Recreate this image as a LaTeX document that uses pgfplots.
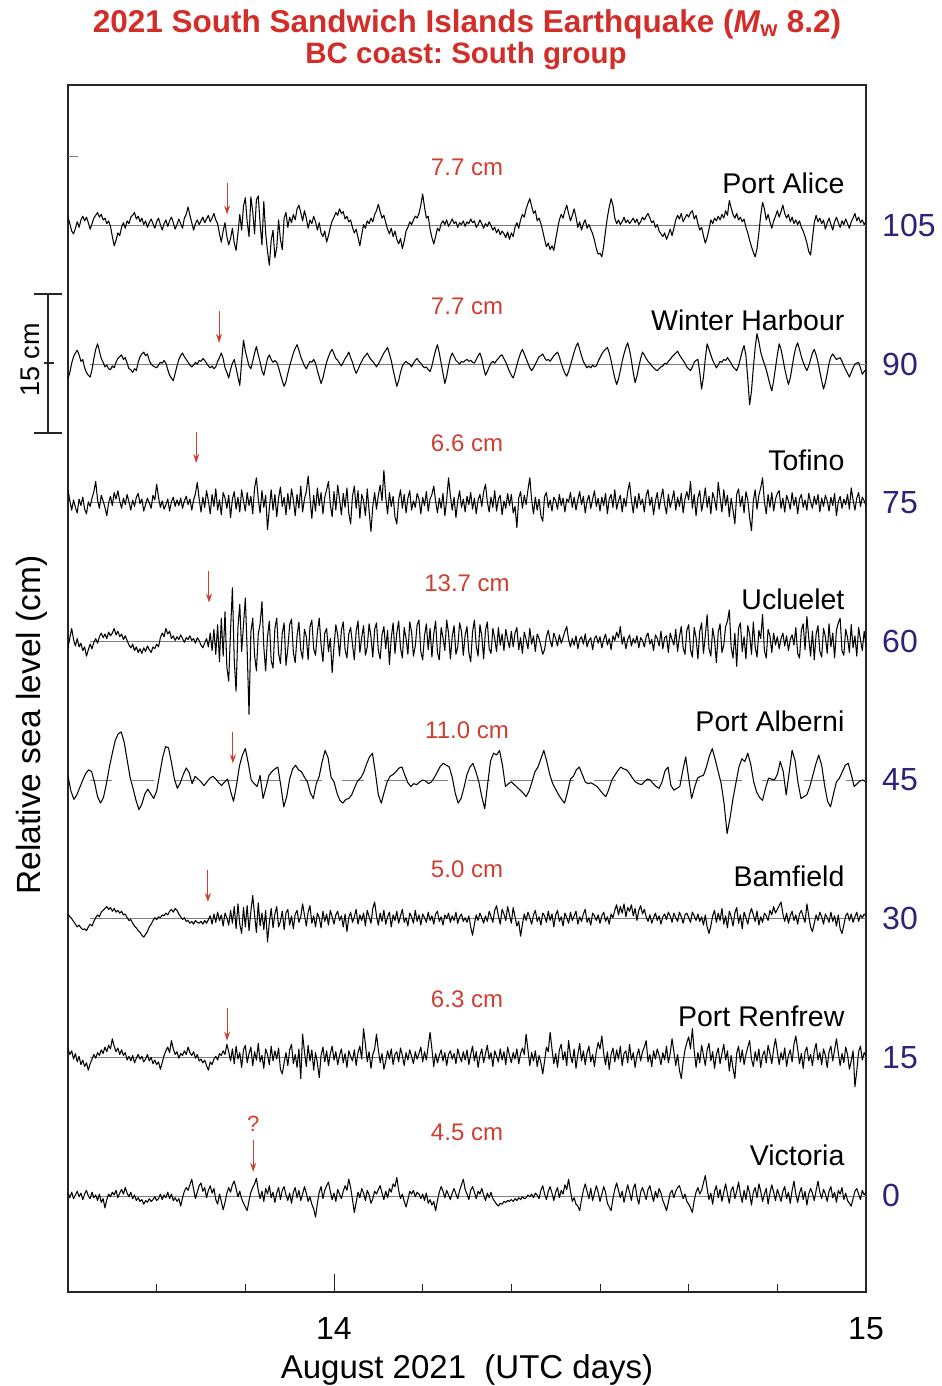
\documentclass[border=0pt]{standalone}
\usepackage{fontspec}
\setmainfont{Liberation Sans}
\usepackage{pgfplots}
\pgfplotsset{compat=1.18}
\usepackage{pgfplotstable}
\usetikzlibrary{arrows.meta}
\frenchspacing

\definecolor{titlered}{RGB}{210,45,40}
\definecolor{ampred}{RGB}{208,62,50}
\definecolor{levelblue}{RGB}{45,35,120}
\definecolor{zerogray}{RGB}{125,125,125}

% De-tided sea-level residuals (cm), 5-min samples from 13 Aug 2021 12:00 UTC
\pgfplotstableread{
h
0.9
0.2
-0.6
-0.9
-0.3
0.4
-0.2
0.6
1.0
0.5
0.9
0.3
-0.4
0.2
0.8
1.1
1.4
0.9
1.2
0.6
0.8
0.2
0.5
-0.1
-1.2
-2.2
-1.6
-0.8
-1.1
-0.2
0.3
-0.3
0.5
0.2
0.9
1.1
1.4
0.7
1.0
0.4
0.8
0.1
0.5
-0.2
0.3
0.7
0.2
-0.3
0.4
0.8
0.1
-0.5
0.2
0.6
-0.1
0.5
0.9
0.3
-0.4
0.1
0.7
0.2
-0.3
0.8
1.2
2.0
1.1
0.3
-0.5
0.2
0.6
0.1
0.5
0.9
0.3
0.7
1.1
0.4
0.8
1.3
0.6
0.2
-0.9
-1.8
-0.6
0.3
-1.2
-2.1
-1.4
-0.3
-1.9
-2.7
-0.8
1.2
-0.5
2.1
3.0
0.4
-1.2
3.1
1.5
-0.9
2.8
3.2
0.2
-2.1
2.6
-0.8
-2.8
-4.3
-1.6
-0.5
-3.5
-2.4
0.6
-1.5
-2.6
0.8
1.4
-0.2
0.9
0.3
1.2
0.6
1.8
2.2
1.4
0.5
1.6
0.8
-0.3
0.6
0.2
1.0
0.4
-0.5
0.3
-0.8
-1.2
-0.6
-1.8
-1.1
-0.2
0.5
0.9
1.4
1.1
1.8
1.3
1.5
0.7
1.0
0.4
0.6
-0.2
-0.8
-0.4
-1.3
-2.2
-1.0
0.1
-0.3
0.5
0.2
0.8
0.4
1.2
1.6
2.3
1.5
0.8
1.1
0.3
-0.4
-0.9
-0.3
-1.2
-0.6
-1.5
-2.0
-1.4
-2.5
-1.7
-0.6
-0.2
0.4
0.1
0.6
1.0
0.8
1.3
2.2
3.4
2.0
0.8
1.0
-0.4
-1.3
-2.0
-1.2
-0.3
-0.6
0.2
0.5
0.1
0.6
-0.1
0.3
0.7
0.2
0.4
-0.2
0.3
0.1
0.5
-0.1
0.4
0.2
0.7
0.3
0.5
-0.2
0.1
0.6
0.2
-0.3
0.2
-0.1
0.4
0.0
-0.5
-0.2
-0.8
-0.4
-1.0
-0.6
-0.9
-1.3
-0.7
-1.5
-0.8
-1.2
-0.2
0.3
-0.3
0.6
1.2
0.9
1.8
2.4
2.9
2.1
1.3
1.6
0.5
0.8
0.2
-0.6
-1.5
-2.3
-1.9
-2.6
-2.2
-2.7
-1.5
-0.4
0.6
1.2
0.8
1.6
2.2
1.3
0.5
1.1
1.8
0.9
-0.2
0.4
-0.5
0.2
0.6
-0.3
0.1
-0.4
-0.9
-1.6
-2.5
-3.1
-3.0
-3.4
-2.2
-0.6
0.9
2.0
2.9
2.2
0.8
0.2
0.6
0.1
0.4
0.9
0.3
0.6
0.2
0.5
0.8
0.3
0.7
0.1
0.4
0.9
0.6
1.0
1.3
0.8
0.3
0.5
-0.2
0.1
-0.6
-0.9
-1.2
-0.8
-1.5
-1.0
-0.4
-1.1
-0.3
0.6
1.1
0.7
1.3
0.4
0.8
1.2
0.9
1.4
1.6
0.7
1.1
0.2
-0.5
-0.2
-1.1
-1.9
-1.3
-0.4
0.6
0.2
0.8
0.5
1.0
0.6
1.2
0.8
1.6
1.1
2.7
1.9
1.2
0.8
1.3
0.6
0.9
0.4
0.7
-0.2
-0.8
-1.6
-2.3
-2.9
-3.4
-2.5
-0.8
1.1
2.5
1.8
0.6
1.2
0.4
-0.3
0.5
1.0
1.6
0.9
1.5
2.2
1.3
0.8
1.2
0.4
0.9
0.2
0.6
0.1
0.5
-0.2
-0.6
-1.2
-1.9
-2.8
-3.2
-1.4
0.3
1.1
0.4
0.8
0.2
0.6
-0.4
0.3
0.8
0.1
-0.5
0.4
0.9
0.3
-0.2
0.5
0.1
0.7
0.2
-0.3
0.4
0.8
1.3
0.5
0.9
0.3
0.6
0.1
0.4
}\tabPA

\pgfplotstableread{
h
-1.6
-0.9
0.1
0.8
1.2
1.5
1.0
0.3
0.5
-0.4
-0.9
-1.2
-1.4
-0.6
0.6
1.6
2.2
1.4
0.6
0.2
-0.3
-0.1
-0.5
-0.6
-0.2
-0.4
0.2
0.6
0.8
1.0
0.5
0.7
0.1
-0.5
-0.6
-0.9
-0.5
-0.7
0.2
0.8
1.1
1.3
0.9
1.1
0.4
0.0
-0.2
-0.3
-0.4
-0.1
0.2
0.1
0.4
0.1
-0.6
-1.2
-1.5
-1.8
-1.0
-0.2
0.5
0.9
1.2
0.8
0.5
0.2
-0.1
-0.3
-0.1
0.2
0.0
0.4
0.3
0.6
0.4
0.1
-0.2
-0.4
-0.2
-0.5
-0.3
0.3
0.7
1.2
0.6
-0.4
-0.9
-1.5
-0.6
0.1
0.5
-0.4
-1.4
-2.3
0.3
2.6
1.4
0.6
-0.2
-0.5
0.3
1.2
1.9
1.0
0.2
-0.7
-1.2
-0.3
0.6
1.0
0.5
0.2
0.4
0.2
-0.4
-1.1
-1.8
-2.4
-1.9
-1.0
-0.2
0.5
1.2
1.7
2.1
1.5
0.8
0.3
-0.2
-0.5
-0.1
0.3
0.2
0.5
0.1
-0.7
-1.4
-2.1
-1.5
-0.6
0.2
0.8
1.3
1.6
1.1
0.6
0.4
0.1
-0.2
0.2
0.6
0.9
1.3
0.7
0.2
-0.5
-1.0
-0.6
-0.1
0.3
0.7
0.9
1.2
0.8
0.5
0.3
0.0
-0.3
0.0
0.4
0.8
1.2
1.5
1.8
1.1
0.4
-0.6
-1.5
-2.4
-1.8
-0.9
-0.2
0.1
0.3
0.1
0.0
-0.3
0.1
0.4
0.6
0.3
0.1
-0.2
-0.4
-0.3
-0.6
-0.8
-0.2
0.7
1.5
2.1
1.2
0.1
-1.0
-2.1
-1.3
-0.2
0.7
1.2
0.8
0.4
0.2
0.0
0.3
0.2
0.4
0.5
0.3
0.4
0.2
0.1
0.5
0.9
1.2
0.6
-0.4
-1.2
-0.8
-0.3
0.1
0.3
0.1
0.4
0.6
0.9
1.0
0.6
0.2
-0.3
-0.8
-1.2
-1.5
-0.9
-0.1
0.6
1.2
1.6
1.1
0.6
0.1
-0.4
-0.7
-0.4
0.0
0.4
0.8
0.9
1.1
0.7
0.4
0.5
0.3
0.6
0.9
1.1
1.3
0.8
0.1
-0.5
-1.0
-1.3
-0.8
-0.1
0.6
1.3
1.9
2.3
1.6
0.9
0.3
-0.1
-0.4
-0.2
-0.4
-0.1
-0.3
-0.2
0.3
0.7
1.1
1.4
1.6
1.8
1.2
0.4
-0.6
-1.5
-2.2
-1.6
-0.7
0.3
1.1
1.8
2.3
1.5
0.4
-0.9
-2.0
-1.3
-0.3
0.6
1.3
1.0
0.6
0.3
0.1
-0.2
-0.4
-0.6
-0.7
-0.5
-0.3
-0.2
0.1
0.0
0.3
0.5
0.8
1.0
1.2
1.4
1.0
0.7
0.4
0.1
-0.3
-0.5
-0.7
-0.3
0.2
0.4
0.5
-0.9
-2.7
-1.4
0.6
2.2
1.6
1.0
0.4
0.0
-0.4
-0.1
0.3
0.2
0.5
0.4
0.7
0.4
0.1
-0.3
-0.5
-0.7
-0.2
0.6
1.4
2.0
0.9
-1.6
-4.4
-2.9
-0.4
1.8
3.3
2.4
1.3
0.6
0.0
-0.6
-1.4
-2.2
-2.9
-1.8
-0.4
1.0
2.2
1.6
0.6
-0.5
-1.4
-2.2
-1.5
-0.3
0.9
1.8
2.3
1.6
0.8
0.2
-0.3
-0.7
-0.2
0.5
1.2
1.6
1.0
0.2
-0.8
-1.8
-2.7
-2.0
-1.0
0.1
0.8
1.1
0.8
0.5
0.6
0.7
0.3
-0.2
-0.6
-1.0
-1.4
-0.9
-0.4
0.0
0.1
0.2
-0.4
-1.1
-0.8
-0.6
}\tabWH

\pgfplotstableread{
h
1.4
0.2
-0.8
0.3
-0.5
-1.1
0.4
-0.3
0.6
-0.7
-1.2
0.1
-0.4
0.5
1.2
2.3
0.3
-0.6
0.8
0.2
-0.5
-1.4
0.0
0.7
-0.3
1.1
0.4
1.3
0.2
-0.6
0.5
-0.2
0.9
0.1
-0.8
0.3
-0.4
0.6
1.0
-0.1
0.4
-0.9
-0.2
0.5
0.0
-0.6
0.8
0.3
2.0
0.6
-0.5
0.2
-0.7
-0.2
0.4
-0.9
0.1
0.6
-0.4
0.3
-0.3
0.5
-0.6
0.2
0.7
-0.2
0.4
-0.8
0.3
1.0
2.2
0.4
-1.0
0.6
-0.5
1.3
0.2
-1.2
0.9
-0.4
1.5
-0.8
0.3
-1.3
1.1
0.5
-0.6
0.8
-1.6
0.4
1.2
-0.7
0.6
-1.0
1.4
0.2
-0.9
1.1
-0.3
0.7
-1.2
1.6
2.7
0.4
-1.1
1.3
-0.5
0.8
-2.9
-0.6
1.4
-0.8
0.9
-1.5
0.5
1.7
-0.4
0.6
-1.3
1.0
-0.7
1.5
0.3
-1.4
0.9
-0.6
1.8
-1.0
0.4
1.2
2.9
0.5
-1.7
0.8
-0.9
1.6
-0.3
1.1
-1.2
0.6
1.4
2.3
-0.2
-1.5
1.2
-0.8
1.9
0.4
-1.3
1.0
-0.5
1.6
-1.1
-2.3
0.7
1.8
-0.6
1.3
-1.7
0.9
0.2
-1.4
1.5
-0.9
-3.1
-0.4
1.1
-0.7
0.8
1.9
0.2
3.5
0.6
-1.2
1.1
-0.4
0.7
-1.5
-2.3
0.3
1.4
-0.6
0.9
-1.1
0.5
1.3
-0.8
0.2
-0.5
1.0
0.4
-1.2
0.6
-0.3
1.2
-0.9
0.4
0.9
1.8
0.2
-1.1
0.5
-0.6
1.0
-1.4
0.3
2.7
0.8
-0.8
0.6
-1.6
0.2
1.3
-0.5
0.4
-1.0
0.7
-0.2
1.1
-0.7
0.5
-1.2
0.3
0.9
-0.4
1.2
2.0
0.1
-1.0
0.6
-0.5
1.3
-0.9
0.4
0.8
-1.3
0.2
-0.6
1.0
-0.3
0.9
-1.1
-0.4
-2.7
0.5
1.2
-0.6
0.8
-0.2
1.4
2.7
0.3
-1.2
0.6
-0.8
0.4
-1.4
-2.0
0.7
1.1
-0.5
0.3
-0.9
0.6
0.2
-0.7
0.9
-0.3
0.5
-1.0
0.4
0.1
1.1
-0.5
0.6
-0.8
0.3
1.2
-0.2
0.7
-1.1
0.2
0.8
-0.6
0.4
1.3
-0.4
0.5
-0.9
0.6
-0.3
1.0
-1.2
0.4
0.9
-0.5
1.4
-0.7
0.2
0.8
-1.0
0.5
-0.4
1.2
2.2
0.3
-1.1
0.7
-0.6
1.0
-0.2
0.4
-1.0
0.8
1.4
-0.3
0.6
-1.3
0.2
1.1
-0.7
0.5
1.5
-0.2
-1.2
0.9
-0.5
0.3
1.3
-0.8
0.6
-0.4
1.0
-1.1
0.4
1.2
0.3
2.3
-0.6
0.9
-1.4
0.5
1.3
-0.9
0.2
1.6
-0.5
0.7
-1.2
1.1
0.4
-0.8
2.2
0.6
-1.0
1.4
-0.3
0.8
-1.5
0.5
-0.8
-2.3
0.9
1.5
-0.4
0.7
-1.1
1.2
0.3
-1.6
-3.0
0.2
1.4
-0.7
0.8
1.6
2.7
0.1
-1.2
0.9
-0.5
1.1
-0.9
0.4
1.0
1.3
-0.6
0.5
-1.0
0.8
0.2
-0.7
1.1
-0.3
0.6
-1.2
0.4
0.9
-0.5
0.3
-0.8
1.0
0.1
-0.6
0.7
-0.2
0.9
-1.0
0.5
-0.4
0.8
0.2
-0.9
0.6
-0.3
1.0
-1.4
0.1
0.7
-0.6
0.4
-0.2
0.9
-0.7
1.6
0.3
-0.8
0.5
1.1
-0.4
0.6
0.2
-0.3
}\tabTO

\pgfplotstableread{
h
-0.7
0.4
1.4
0.2
-0.5
0.3
-0.6
-0.2
-1.0
-0.6
-1.6
-0.9
-0.3
-0.8
-0.1
0.3
-0.2
0.5
0.9
0.4
0.8
0.3
1.0
0.6
0.9
1.4
0.7
1.1
0.5
0.8
0.2
0.6
0.1
-0.4
-0.7
-0.3
-1.0
-0.6
-1.2
-0.8
-1.3
-0.7
-1.1
-0.5
-0.9
-1.2
-0.6
-0.8
-0.3
-0.6
0.4
0.9
0.5
1.4
0.8
1.1
0.3
0.6
0.1
0.5
0.2
0.7
0.3
-0.1
0.4
0.2
0.6
0.1
0.3
-0.2
0.4
0.1
-0.4
-0.7
-0.2
0.3
-0.6
0.9
-1.0
1.3
-1.4
1.8
-2.2
2.5
-1.6
3.2
-2.8
-4.3
1.2
5.8
-2.0
-5.4
1.5
4.0
-1.1
1.8
4.7
-1.0
-7.9
1.0
2.5
-1.5
-3.2
0.8
1.9
4.3
-0.6
-3.2
0.5
2.2
-2.1
-2.9
1.4
2.5
-1.3
-2.4
0.9
2.0
-2.6
-0.8
1.8
2.4
-1.2
-2.3
0.6
2.1
-0.9
-1.9
1.3
0.5
-2.0
1.6
2.3
-0.8
-1.5
1.0
2.5
-0.4
-2.2
0.9
1.4
-1.1
0.3
-3.4
-0.5
1.8
0.7
-1.6
1.2
2.1
-0.9
-1.8
0.8
1.5
-0.3
-2.0
1.1
2.2
-1.2
0.4
1.7
-1.5
-0.6
1.9
0.5
-1.7
1.3
2.0
-1.0
-1.9
0.7
1.6
-0.8
1.2
-2.5
0.4
2.0
-1.3
0.9
2.2
-0.7
-1.8
1.5
0.3
-1.4
2.1
1.0
-1.6
-0.5
1.8
2.3
-1.1
-2.0
0.6
1.9
-0.9
1.4
-1.7
0.8
2.2
-1.2
-2.0
1.5
0.4
-1.0
2.3
0.9
-1.9
0.5
1.7
-1.4
-0.6
2.0
1.1
-1.5
0.7
1.6
-1.2
-2.2
1.0
2.3
-0.5
-1.6
1.8
0.6
-1.9
1.2
2.1
-0.8
-1.3
1.4
0.3
-1.1
1.5
-0.4
0.8
-1.0
1.3
0.2
-0.7
1.1
-0.6
0.9
1.5
-0.9
0.4
-1.3
1.0
0.2
-0.8
1.4
-0.3
0.6
-1.1
0.8
0.3
-0.5
-1.4
-0.9
0.5
1.2
0.1
-0.6
0.9
0.3
-0.5
0.7
-0.2
0.4
1.1
1.6
0.2
-0.6
0.3
-0.4
0.6
-0.8
0.2
0.5
-0.3
0.8
-0.6
0.1
0.4
-0.9
0.3
0.6
-0.2
0.5
-0.7
0.2
0.8
-0.4
0.3
-0.9
0.6
0.1
1.0
0.4
1.6
-0.3
0.5
-0.8
0.2
0.7
-0.5
0.3
-0.2
0.6
-0.7
0.4
0.1
-0.6
0.5
0.9
-0.3
0.2
-1.0
0.7
0.3
-0.5
1.1
-0.8
0.4
0.6
-1.2
0.9
0.2
-0.4
1.3
-1.1
0.5
1.6
-0.7
-1.4
1.2
1.8
-0.9
-1.7
1.5
0.4
-1.9
1.1
2.0
-1.3
0.6
2.9
-0.8
-1.6
1.4
0.2
-2.3
1.0
1.9
-1.2
-0.4
1.6
2.2
3.4
-0.6
-1.8
0.9
-2.7
1.4
2.0
-1.1
0.5
-1.9
1.7
0.8
-1.4
2.1
-0.6
-1.7
1.2
0.3
2.9
-1.0
-1.8
1.3
0.6
-1.2
0.9
-0.4
0.5
-0.8
0.3
0.9
-0.5
0.6
-1.0
0.2
0.7
-0.4
1.5
-1.3
-1.8
1.2
1.9
-0.9
2.7
0.4
-1.6
1.1
-2.0
0.8
1.7
-1.1
-1.7
1.4
0.5
-1.3
1.9
-0.6
0.9
-1.8
1.2
2.0
2.5
-1.0
-1.5
1.3
0.4
-1.2
1.8
-0.7
0.6
-1.6
1.5
0.2
-1.0
1.1
-0.4
}\tabUC

% Port Alberni: 8-min samples
\pgfplotstableread{
h
0.4
-1.2
-2.1
-1.6
-0.8
0.0
0.7
1.1
0.9
-0.3
-1.8
-2.5
-1.9
-0.4
1.4
2.9
4.3
5.0
5.2
4.1
2.2
0.3
-0.9
-2.2
-3.2
-2.6
-1.5
-1.0
-1.5
-2.0
-1.2
0.6
2.4
3.6
3.5
1.9
0.1
-0.9
-0.3
0.6
1.3
0.8
-0.4
0.4
0.1
-0.2
-0.6
-0.2
0.2
0.4
0.1
-0.3
-0.6
-0.2
0.1
-1.2
-2.3
-0.6
1.5
2.7
3.4
1.8
0.0
-0.4
-0.7
0.5
-2.0
-0.8
0.5
0.9
1.2
1.4
-0.6
-2.9
-1.8
0.1
1.2
1.6
1.1
0.9
0.3
-0.2
-1.4
-2.0
-0.4
0.4
2.0
3.2
2.4
0.3
-0.2
-1.4
-2.2
-2.5
-2.1
-2.0
-1.6
-0.8
-0.1
0.2
0.8
1.7
2.5
2.9
0.8
-1.6
-2.5
-1.3
-0.2
0.4
0.6
0.9
1.3
1.4
0.5
-0.3
-0.7
-0.4
-0.5
-0.2
0.0
-0.1
-0.4
-0.2
0.3
0.9
1.5
1.8
1.6
1.4
0.3
-1.4
-2.5
-2.0
-0.8
0.6
1.4
1.8
0.9
-0.2
-1.8
-3.1
-0.4
2.1
2.9
2.7
3.2
1.6
-0.7
-0.4
-0.2
-0.5
-0.8
-1.1
-1.4
-1.8
-1.2
-0.2
0.9
1.4
2.3
3.2
2.0
0.6
-0.4
-1.0
-1.6
-2.1
-2.5
-1.3
0.1
0.4
1.1
1.4
0.6
-0.2
-0.4
-0.3
-0.5
-0.7
-1.1
-1.5
-1.8
-1.0
0.0
0.5
1.0
1.4
1.2
1.1
0.7
0.2
-0.2
-0.4
-0.5
-0.2
0.1
0.0
-0.4
-0.7
-0.9
-0.2
1.0
1.4
-0.6
-1.1
-0.9
-0.7
1.0
2.5
0.2
-2.0
-0.8
0.2
0.4
0.5
1.4
2.6
3.4
2.2
0.9
-0.4
-2.6
-5.8
-4.1
-2.0
-0.3
1.4
2.3
2.0
2.9
1.7
-0.2
-1.3
-1.9
-2.2
-0.9
0.2
0.1
0.0
0.6
2.0
0.9
-1.6
0.8
3.2
2.1
-0.3
-2.0
-1.8
-1.6
-0.7
0.5
1.7
2.7
1.6
-0.6
-2.3
-2.9
-1.5
-0.2
0.2
0.9
1.6
1.8
0.6
-0.7
-0.4
-0.1
0.0
-0.2
}\tabAL

\pgfplotstableread{
h
0.5
0.2
0.0
-0.3
-0.6
-0.9
-0.7
-1.0
-1.2
-1.1
-1.3
-0.9
-0.6
-0.8
-0.3
0.1
0.4
0.2
0.7
0.9
1.1
1.3
1.0
1.2
0.8
1.1
0.7
0.9
0.6
0.8
0.4
0.5
0.1
-0.2
-0.1
-0.5
-0.8
-1.0
-1.3
-1.5
-1.8
-2.0
-1.7
-1.4
-0.9
-0.6
-0.2
0.1
-0.1
0.2
0.1
0.4
0.3
0.6
0.4
0.8
1.0
0.7
1.1
0.9
0.5
0.2
-0.1
0.1
-0.3
-0.2
-0.5
-0.3
-0.6
-0.2
-0.4
-0.5
-0.3
-0.6
-0.2
-0.5
-0.1
0.3
-0.6
0.5
-0.4
0.7
-0.2
0.4
-0.8
0.6
0.1
-0.7
0.9
-0.5
1.3
-1.1
1.6
-0.6
-1.6
1.2
-0.9
1.4
-1.3
0.8
2.5
0.4
-1.5
1.7
-0.8
0.6
-1.2
0.9
-2.5
-0.4
1.1
-1.0
0.5
1.3
-0.9
-0.3
0.8
-1.2
0.6
1.0
-0.7
0.3
-1.1
0.5
0.9
-0.4
0.2
1.6
0.4
-0.8
0.7
1.4
-0.5
0.3
-0.9
0.6
0.1
-1.0
0.8
-0.3
0.5
-0.7
0.9
0.2
-0.6
0.4
0.8
-0.2
0.3
-0.9
0.5
-1.4
0.1
0.7
-0.4
0.2
1.0
-0.6
0.4
-0.2
0.6
-0.8
0.9
0.2
-0.5
1.1
1.8
0.3
-0.7
0.6
-0.3
0.9
-0.6
0.2
0.7
-0.9
0.4
-0.2
0.8
-0.5
0.3
1.0
-0.4
0.1
-0.8
0.6
0.2
-0.5
0.9
-0.3
0.4
-0.7
0.5
0.1
-0.4
0.7
-0.2
0.3
-0.6
0.5
0.8
-0.3
0.2
-0.7
0.4
0.0
0.6
-0.4
0.3
-0.2
0.7
-0.5
0.2
0.5
-0.3
0.1
-0.4
0.3
-0.9
-1.8
-0.6
0.4
-0.2
0.6
0.1
-0.5
0.3
-0.3
0.8
0.2
-0.4
0.9
1.4
0.3
-0.6
1.0
0.5
-0.2
1.3
0.4
-0.5
1.2
0.2
-0.8
-0.3
-1.9
-0.6
0.5
-0.2
0.7
0.1
-0.6
0.4
0.9
-0.3
0.2
-0.7
0.6
0.3
-0.4
0.8
-0.2
0.5
-0.9
0.4
0.9
-0.3
0.2
-0.8
0.6
0.1
-0.5
0.7
-0.2
0.3
0.8
-0.6
0.2
-0.3
0.5
1.0
-0.4
0.1
-0.7
0.6
0.3
-0.2
0.4
-0.5
0.3
0.7
-0.3
0.2
-0.6
0.5
0.1
0.9
1.5
0.4
1.3
0.6
1.6
0.2
1.2
0.8
1.5
0.3
1.1
-0.2
0.9
1.4
0.5
1.0
0.2
-0.3
0.4
-0.5
0.1
0.6
-0.2
0.3
-0.6
0.2
0.5
-0.1
0.7
0.3
-0.4
0.6
0.1
-0.3
0.7
0.2
-0.5
0.4
0.6
0.1
-0.4
0.7
0.3
-0.2
0.5
-0.3
0.2
-0.7
0.4
-0.9
-1.6
-0.8
0.3
0.9
-0.4
0.6
-0.2
1.1
-0.6
0.3
-1.0
0.8
0.2
-0.8
0.6
1.2
-0.5
0.4
-1.1
0.7
0.1
-0.6
0.5
1.1
0.4
-0.3
0.8
-0.7
0.2
-0.4
0.6
0.3
-0.2
0.9
0.4
1.3
0.6
1.0
1.4
1.8
0.5
-0.3
0.6
-0.5
0.3
0.8
-0.2
0.4
-0.6
0.5
0.9
0.2
-0.4
1.6
0.3
-0.9
-1.4
-0.5
0.4
-0.2
0.7
0.2
-0.6
0.5
0.1
-0.4
0.7
-0.3
0.3
-0.8
0.4
-1.1
-1.6
-0.7
0.3
0.6
-0.2
0.5
-0.4
0.2
0.7
-0.3
0.4
0.1
0.5
0.3
}\tabBA

\pgfplotstableread{
h
0.9
0.3
0.7
-0.2
0.4
-0.5
0.1
-0.8
-0.3
-1.0
-0.6
-1.4
-0.7
-0.2
0.3
-0.1
0.5
0.2
0.8
0.4
1.1
0.6
1.3
0.9
2.0
1.2
0.6
1.0
0.3
0.8
0.2
0.5
-0.3
0.1
-0.4
0.2
-0.6
-0.1
0.3
-0.2
0.1
-0.5
-0.2
0.3
-0.4
0.0
-0.7
-0.3
-0.8
-0.5
-1.3
-0.6
0.2
0.7
1.1
0.5
1.8
0.9
0.3
0.6
-0.1
0.4
0.2
0.7
0.3
1.1
0.5
0.2
0.6
-0.1
0.3
-0.4
-0.2
-0.6
-0.3
-0.9
-1.4
-0.5
-0.8
-0.2
0.1
-0.3
0.4
0.2
0.7
0.3
1.4
0.6
-0.4
0.9
-0.7
1.2
-0.2
0.5
-1.1
0.8
1.3
-0.6
0.4
1.1
-0.9
0.6
-0.3
1.5
-0.5
0.2
-1.2
0.9
0.3
-0.8
1.2
-0.4
0.7
-0.2
1.0
-1.3
-1.8
-0.6
0.5
-0.9
0.8
1.4
-0.7
0.3
-1.1
0.9
-2.3
2.5
0.6
-1.0
1.3
-0.4
0.8
-1.4
0.5
-0.6
-2.2
0.2
1.1
-0.5
0.7
-0.9
0.4
1.2
-0.3
0.6
-0.8
0.2
0.9
-0.6
0.4
-1.1
0.7
0.1
-0.4
0.8
-0.9
0.5
1.2
-0.2
3.1
1.4
-0.5
0.6
-1.2
0.3
0.9
2.5
0.8
-0.6
0.4
-1.3
-0.4
0.7
-0.2
0.9
-0.8
0.3
0.6
-0.5
1.0
0.2
-0.9
0.5
-0.3
0.8
0.1
-0.7
0.6
-0.2
0.4
1.1
-0.5
0.6
-0.3
1.2
2.7
0.9
-1.0
0.4
-0.6
0.2
0.8
-0.4
0.5
-0.9
0.3
0.7
-0.2
0.4
-0.7
0.9
0.1
-0.5
0.6
-0.3
0.8
-0.8
0.3
1.2
-0.4
0.6
-1.1
0.2
0.9
-0.6
0.4
1.3
-0.2
0.5
-1.0
0.7
0.1
-0.5
0.9
-0.3
0.6
-0.8
1.1
0.2
-0.6
0.5
-0.2
0.9
-0.7
0.4
1.0
0.3
2.5
0.8
-0.9
0.5
-0.4
0.7
-1.0
0.2
-0.6
-1.8
-0.4
1.1
0.6
2.7
0.9
-0.7
0.4
-1.1
0.8
1.4
-0.3
0.6
-0.9
1.8
0.2
-0.6
0.9
-1.2
0.3
1.5
-0.4
0.7
-0.8
0.5
1.2
-0.5
0.3
-1.0
0.6
1.6
0.9
2.3
0.4
-0.8
0.6
-1.3
0.3
1.0
-0.5
0.8
-0.2
1.2
-0.9
0.4
0.7
-0.6
1.4
-0.3
0.5
-1.1
0.2
0.9
-0.4
0.6
1.1
1.8
-0.5
0.3
-1.0
0.7
-0.2
0.9
0.2
-0.8
0.5
-0.3
1.2
-0.6
0.4
2.0
0.6
-0.9
0.3
-1.4
-2.3
-0.5
0.8
1.6
2.2
0.9
3.1
0.7
-1.1
0.5
-0.6
1.3
0.2
-0.9
0.8
1.5
-0.4
0.6
-1.2
0.3
1.0
-0.7
0.4
1.4
-0.3
0.7
-1.5
0.2
-1.2
-2.3
0.4
1.2
-0.5
0.8
-0.8
0.3
1.1
1.8
-0.2
-1.0
0.6
-0.4
0.9
-1.1
0.2
0.7
-0.6
1.3
0.4
-0.7
0.9
2.0
0.6
-0.8
0.5
-0.3
1.0
-1.0
0.2
0.8
-0.5
1.4
2.3
0.9
-0.7
0.4
-1.2
0.6
1.1
-0.4
0.3
-0.9
0.7
1.5
-0.3
0.5
-0.8
0.9
0.2
-1.1
0.6
1.2
-0.4
0.8
2.0
0.5
-0.9
0.4
-0.6
1.1
0.3
-1.3
-0.4
0.7
-3.2
-1.5
0.6
1.2
-0.3
0.5
0.1
}\tabPR

\pgfplotstableread{
h
0.3
-0.2
0.4
-0.3
0.1
0.5
-0.1
0.3
-0.4
0.2
0.6
0.0
-0.3
0.4
-0.2
0.1
-0.5
0.2
-0.7
-0.3
-1.3
-0.4
0.2
-0.1
0.4
0.1
0.6
-0.2
0.3
0.7
0.2
0.9
0.3
-0.1
0.4
-0.3
0.1
-0.5
-0.2
-0.6
-0.4
-0.9
-0.5
-0.7
-0.3
-0.6
-0.4
-0.1
-0.5
-0.3
0.2
-0.4
0.1
-0.2
0.4
-0.3
0.2
-0.5
-0.2
-0.6
-0.3
-1.1
-0.2
0.5
0.9
0.6
1.2
1.8
0.7
-0.3
0.4
1.1
1.4
0.5
0.9
-0.2
0.6
1.1
0.3
0.8
-0.4
-0.9
0.2
-0.6
-1.5
-0.7
0.3
0.9
0.4
1.2
1.6
0.8
-0.1
0.5
-0.3
-0.8
-1.2
-1.6
-0.5
0.4
0.9
1.3
1.9
0.6
-0.3
0.5
-0.6
0.8
0.2
1.1
-0.2
0.4
-0.7
0.3
0.9
-0.4
0.6
1.0
0.1
-0.5
0.3
-0.8
0.4
0.9
-0.2
0.6
-0.5
0.2
1.0
0.3
-0.6
-0.1
-0.9
-1.4
-2.3
-0.8
0.4
1.0
-0.3
0.6
1.1
1.5
0.5
-0.4
0.3
-0.6
0.7
0.2
-0.3
0.5
1.1
0.6
1.8
0.9
-0.4
-1.8
-0.7
0.4
-0.2
0.8
0.3
-0.5
0.6
0.1
-0.8
-0.3
0.5
0.2
0.7
1.1
0.3
-0.4
0.5
-0.2
0.8
0.4
1.3
1.0
2.0
0.6
-0.3
0.2
-0.6
-1.2
-0.4
0.5
0.2
0.6
-0.1
0.4
0.2
-0.3
0.2
-0.5
0.3
-0.8
-0.4
-1.0
-0.6
-1.6
-0.5
0.4
1.0
0.5
-0.2
0.6
0.1
-0.4
0.3
0.8
0.2
-0.3
0.6
1.2
1.8
0.7
0.2
-0.4
0.6
1.0
0.4
-0.3
0.5
0.2
0.8
0.1
-0.5
0.3
-0.2
0.4
-0.3
-0.6
-0.9
-1.1
-0.8
-0.9
-0.6
-0.7
-0.5
-0.6
-0.4
-0.6
-0.3
-0.5
-0.2
-0.4
-0.1
-0.3
-0.2
0.1
-0.1
0.2
-0.2
0.3
0.1
-0.3
0.6
1.1
0.2
-0.4
0.5
1.0
0.3
-0.5
0.4
0.9
-0.2
0.6
0.2
1.2
0.7
1.8
0.5
-0.6
-0.2
-0.9
-1.1
-1.6
-0.4
0.6
1.3
0.5
-0.3
0.8
-0.5
0.3
1.1
0.4
-0.6
0.2
1.0
0.4
-0.8
-1.2
-1.6
-0.3
0.7
1.4
0.6
-0.2
0.5
-0.7
0.3
1.2
0.4
-0.5
0.8
1.3
-0.1
-0.9
0.4
0.9
0.3
-0.4
0.7
1.1
0.2
-0.6
0.5
-0.2
0.8
0.3
-0.5
-1.0
-1.6
-0.7
0.3
0.6
-0.2
0.5
0.9
1.1
0.4
-0.3
0.2
-0.6
-0.9
-1.3
-1.8
-0.5
0.4
0.9
0.2
0.6
1.4
2.2
0.8
-0.4
0.3
-0.9
0.5
1.1
-0.2
0.7
-0.6
0.4
1.3
0.2
-0.8
0.6
1.0
-0.3
0.5
1.5
0.2
-0.7
0.6
-0.4
1.1
0.3
-1.0
0.4
0.9
-0.2
1.3
0.5
-0.6
0.2
0.8
-0.9
0.3
1.2
0.4
-0.5
0.7
0.1
-0.6
0.5
1.0
-0.3
0.4
-0.8
0.6
1.6
0.2
-0.7
0.3
0.9
-0.4
0.5
-1.0
0.2
0.8
0.3
-0.5
0.6
1.6
0.4
-0.3
0.7
0.2
-0.6
0.5
1.0
-0.2
0.4
-0.7
0.6
0.2
0.9
-0.4
0.3
-0.5
-0.8
-1.1
-0.3
0.5
0.8
0.2
-0.4
0.6
0.1
0.4
}\tabVI

\begin{document}
\begin{tikzpicture}[
  trace/.style={black, line width=1.05bp, mark=none, line join=round},
  zero/.style={zerogray, line width=0.7bp},
  amp/.style={text=ampred, font=\fontsize{24bp}{24bp}\selectfont, anchor=base},
  stn/.style={font=\fontsize{28.5bp}{28.5bp}\selectfont, anchor=base east},
  onset/.style={ampred, line width=1bp, -{Stealth[length=9bp,width=6bp]}},
]
\path[use as bounding box] (0bp,0bp) rectangle (942bp,1386bp);
\begin{axis}[
  at={(68bp,94bp)}, anchor=south west,
  scale only axis, width=798bp, height=1207bp,
  xmin=13.5, xmax=15, ymin=-10.4, ymax=120.2,
  axis line style={line width=1.6bp, black!85},
  tick align=inside,
  xtick pos=lower,
  xtick={14,15}, xticklabels={14,15},
  minor xtick={13.666667,13.833333,14.166667,14.333333,14.5,14.666667,14.833333},
  major tick length=18bp, minor tick length=8bp,
  x tick style={line width=1bp, black!85},
  minor x tick style={line width=1bp, black!85},
  xticklabel style={font=\fontsize{32bp}{32bp}\selectfont, inner sep=0pt, yshift=-25bp},
  ytick={0,15,30,45,60,75,90,105},
  yticklabels={0,15,30,45,60,75,90,105},
  ytick pos=right, yticklabel pos=right,
  y tick style={draw=none},
  yticklabel style={font=\fontsize{32bp}{32bp}\selectfont, text=levelblue, inner sep=0pt, anchor=west, xshift=16bp},
]
% zero reference lines
\draw[zero] (axis cs:13.541,105) -- (axis cs:15,105);
\draw[zero] (axis cs:13.541,90) -- (axis cs:15,90);
\draw[zero] (axis cs:13.541,75) -- (axis cs:15,75);
\draw[zero] (axis cs:13.541,60) -- (axis cs:15,60);
\draw[zero, dash pattern=on 22bp off 20bp] (axis cs:13.541,45) -- (axis cs:15,45);
\draw[zero] (axis cs:13.541,30) -- (axis cs:15,30);
\draw[zero] (axis cs:13.541,15) -- (axis cs:15,15);
\draw[zero] (axis cs:13.541,0) -- (axis cs:15,0);
% records, stacked with 15 cm spacing
\addplot[trace] table[x index=0, y index=0, x expr=13.5+\coordindex/288, y expr=\thisrow{h}+105] {\tabPA};
\addplot[trace] table[x index=0, y index=0, x expr=13.5+\coordindex/288, y expr=\thisrow{h}+90] {\tabWH};
\addplot[trace] table[x index=0, y index=0, x expr=13.5+\coordindex/288, y expr=\thisrow{h}+75] {\tabTO};
\addplot[trace] table[x index=0, y index=0, x expr=13.5+\coordindex/288, y expr=\thisrow{h}+60] {\tabUC};
\addplot[trace] table[x index=0, y index=0, x expr=13.5+\coordindex/180, y expr=\thisrow{h}+45] {\tabAL};
\addplot[trace] table[x index=0, y index=0, x expr=13.5+\coordindex/288, y expr=\thisrow{h}+30] {\tabBA};
\addplot[trace] table[x index=0, y index=0, x expr=13.5+\coordindex/288, y expr=\thisrow{h}+15] {\tabPR};
\addplot[trace] table[x index=0, y index=0, x expr=13.5+\coordindex/288, y expr=\thisrow{h}] {\tabVI};
% station names
\node[stn] at (axis cs:14.966,108.5) {Port Alice};
\node[stn] at (axis cs:14.966,93.6) {Winter Harbour};
\node[stn] at (axis cs:14.966,78.5) {Tofino};
\node[stn] at (axis cs:14.966,63.5) {Ucluelet};
\node[stn] at (axis cs:14.966,50.2) {Port Alberni};
\node[stn] at (axis cs:14.966,33.5) {Bamfield};
\node[stn] at (axis cs:14.966,18.3) {Port Renfrew};
\node[stn] at (axis cs:14.966,3.3) {Victoria};
% maximum wave heights
\node[amp] at (axis cs:14.25,110.4) {7.7 cm};
\node[amp] at (axis cs:14.25,95.4) {7.7 cm};
\node[amp] at (axis cs:14.25,80.5) {6.6 cm};
\node[amp] at (axis cs:14.25,65.4) {13.7 cm};
\node[amp] at (axis cs:14.25,49.5) {11.0 cm};
\node[amp] at (axis cs:14.25,34.4) {5.0 cm};
\node[amp] at (axis cs:14.25,20.4) {6.3 cm};
\node[amp] at (axis cs:14.25,6.0) {4.5 cm};
% tsunami arrival times
\draw[onset] (axis cs:13.799,109.65) -- (axis cs:13.799,106.2);
\draw[onset] (axis cs:13.784,95.7) -- (axis cs:13.784,92.3);
\draw[onset] (axis cs:13.741,82.7) -- (axis cs:13.741,79.3);
\draw[onset] (axis cs:13.765,67.6) -- (axis cs:13.765,64.2);
\draw[onset] (axis cs:13.810,50.2) -- (axis cs:13.810,46.8);
\draw[onset] (axis cs:13.763,35.3) -- (axis cs:13.763,31.8);
\draw[onset] (axis cs:13.799,20.3) -- (axis cs:13.799,16.8);
\draw[onset] (axis cs:13.848,6.0) -- (axis cs:13.848,2.6);
\node[amp, font=\fontsize{22bp}{22bp}\selectfont] at (axis cs:13.848,7.0) {?};
% short reference tick
\draw[zerogray, line width=1bp] (axis cs:13.5,112.5) -- ([xshift=10bp]axis cs:13.5,112.5);
\end{axis}
% vertical scale bar (15 cm)
\draw[line width=1.4bp, black!85] (48bp,953bp) -- (48bp,1092bp);
\draw[line width=1.4bp, black!85] (34bp,1092bp) -- (62bp,1092bp);
\draw[line width=1.4bp, black!85] (34bp,953bp) -- (62bp,953bp);
\draw[line width=1.4bp, black!85] (44bp,1023bp) -- (54bp,1023bp);
\node[rotate=90, anchor=base, inner sep=0pt, font=\fontsize{27bp}{27bp}\selectfont] at (39bp,1026bp) {15 cm};
% axis titles
\node[rotate=90, anchor=base, inner sep=0pt, font=\fontsize{33.5bp}{34bp}\selectfont] at (40bp,661bp) {Relative sea level (cm)};
\node[anchor=base, inner sep=0pt, font=\fontsize{33bp}{33bp}\selectfont] at (467bp,8bp) {August 2021~ (UTC days)};
\node[anchor=base, inner sep=0pt, text=titlered, font=\bfseries\fontsize{31.5bp}{32bp}\selectfont] at (467bp,1353bp) {2021 South Sandwich Islands Earthquake (\textit{M}\textsubscript{w} 8.2)};
\node[anchor=base, inner sep=0pt, text=titlered, font=\bfseries\fontsize{29.5bp}{30bp}\selectfont] at (466bp,1322bp) {BC coast: South group};
\end{tikzpicture}
\end{document}
